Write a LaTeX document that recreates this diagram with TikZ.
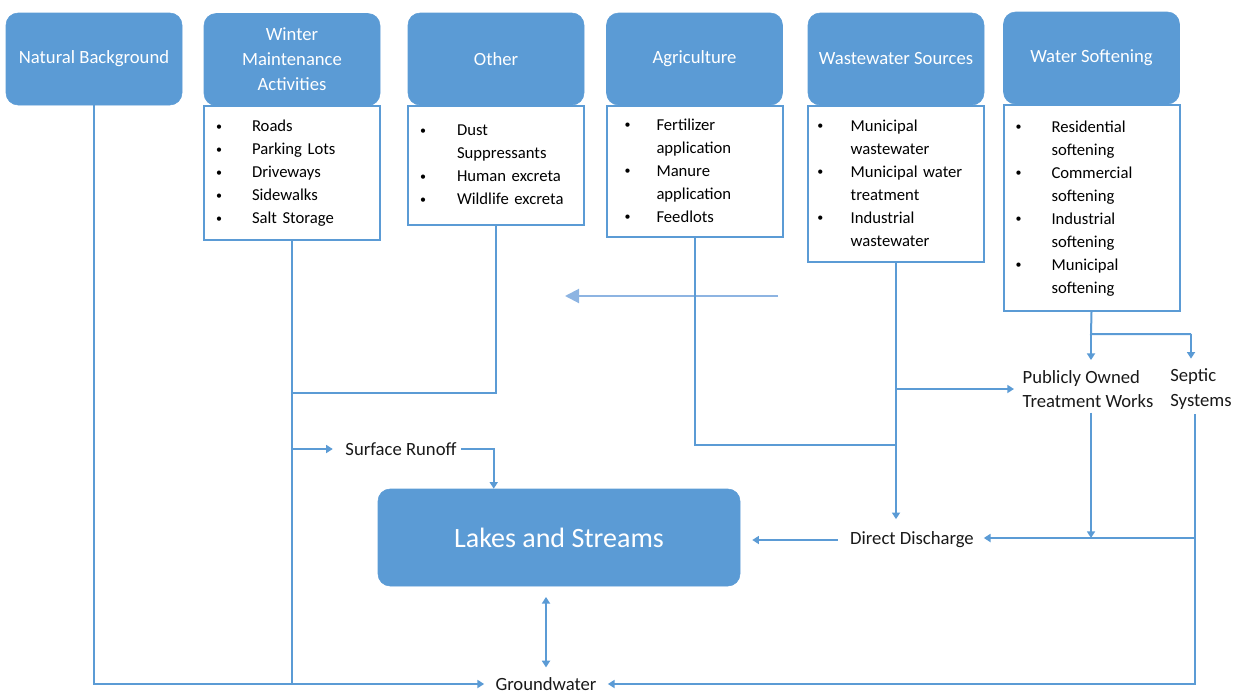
\documentclass[tikz,border=0pt]{standalone}
\usepackage{fontspec}
\setmainfont{Carlito}
\usetikzlibrary{arrows.meta,positioning}
\definecolor{boxblue}{HTML}{5B9BD5}
\definecolor{paleblue}{HTML}{8DB4E2}
\newcommand\bul{\raisebox{1.2pt}{\fontsize{9}{9}\selectfont\textbullet}}
\tikzset{
  head/.style={draw=boxblue, fill=boxblue, rounded corners=9pt, text=white,
    font=\fontsize{14}{18.75}\selectfont, minimum width=132pt, minimum height=69pt, align=center},
  listbox/.style={draw=boxblue, line width=1.5pt, fill=white, minimum width=132pt,
    inner xsep=9pt, text width=114pt, align=left, anchor=north,
    font=\fontsize{12.5}{17.25}\selectfont},
  lbl/.style={font=\fontsize{14}{18.5}\selectfont, text=black!90},
  flow/.style={draw=boxblue, line width=1.5pt},
  arr/.style={flow, -{Triangle[width=6pt,length=5pt]}},
  dblarr/.style={flow, {Triangle[width=6pt,length=5pt]}-{Triangle[width=6pt,length=5pt]}}
}
\begin{document}
\begin{tikzpicture}[x=0.75pt, y=-0.75pt]
  \useasboundingbox (0,0) rectangle (1233,696);

  % source boxes
  \node [head] (nat) at (94,59) {Natural Background};

  \node [listbox, minimum height=100.5pt] (winterlist) at (292,105) {%
    \begin{tabular}{@{}p{27pt}@{}l@{}}
      \bul & Roads\\
      \bul & Parking Lots\\
      \bul & Driveways\\
      \bul & Sidewalks\\
      \bul & Salt Storage
    \end{tabular}};
  \node [head] (winter) at (292,59.5) {\raisebox{-5.5pt}{\parbox{120pt}{\centering Winter\\Maintenance\\Activities}}};

  \node [listbox, minimum height=89.25pt] (otherlist) at (496,105) {%
    \begin{tabular}{@{}p{27.75pt}@{}l@{}}
      \bul & Dust\\
           & Suppressants\\
      \bul & Human excreta\\
      \bul & Wildlife excreta
    \end{tabular}};
  \node [head] (other) at (496,59) {Other};

  \node [listbox, minimum height=98.25pt, inner xsep=13.5pt, text width=105pt] (agrilist) at (694.5,105) {%
    \begin{tabular}{@{}p{24pt}@{}l@{}}
      \bul & Fertilizer\\
           & application\\
      \bul & Manure\\
           & application\\
      \bul & Feedlots
    \end{tabular}};
  \node [head] (agri) at (694.5,59) {Agriculture};

  \node [listbox, minimum height=117pt, inner xsep=7pt, text width=118pt] (wastelist) at (896,105) {%
    \begin{tabular}{@{}p{25pt}@{}l@{}}
      \bul & Municipal\\
           & wastewater\\
      \bul & Municipal water\\
           & treatment\\
      \bul & Industrial\\
           & wastewater
    \end{tabular}};
  \node [head] (waste) at (896,59) {Wastewater Sources};

  \node [listbox, minimum height=154.5pt] (softlist) at (1091.5,104) {%
    \begin{tabular}{@{}p{27pt}@{}l@{}}
      \bul & Residential\\
           & softening\\
      \bul & Commercial\\
           & softening\\
      \bul & Industrial\\
           & softening\\
      \bul & Municipal\\
           & softening
    \end{tabular}};
  \node [head] (soft) at (1091.5,58) {Water Softening};

  % receiving waters and pathways
  \node [head, minimum width=271.5pt, minimum height=72.75pt,
    font=\fontsize{21}{25}\selectfont] (lakes) at (559,537.5) {Lakes and Streams};
  \node [lbl] (runoff) at (401,449) {Surface Runoff};
  \node [lbl] (discharge) at (912,540) {Direct Discharge};
  \node [lbl, align=left] (potw) at (1088,389) {Publicly Owned\\Treatment Works};
  \node [lbl, align=left] (septic) at (1201,389) {Septic\\Systems};
  \node [lbl] (ground) at (546,684) {Groundwater};

  \coordinate (otherjoin) at (292,393);
  \coordinate (agrijoin) at (897,445);
  \coordinate (split) at (1091,334);
  \coordinate (septictop) at (1191,334);
  \coordinate (sepjoin) at (1195,538);
  \coordinate (loosestart) at (778,296);
  \coordinate (looseend) at (565,296);

  % left side
  \draw [arr, shorten >=5pt] (nat.south) |- (ground.west);
  \draw [flow] (winterlist.south) -- (winterlist.south |- ground);
  \draw [flow] (otherlist.south) |- (otherjoin);
  \draw [arr, shorten >=6pt] (winterlist.south |- runoff) -- (runoff.west);
  \draw [arr] (runoff.east) -| ([xshift=87pt]lakes.north west);
  \draw [dblarr, shorten <=8pt, shorten >=4pt] (ground |- lakes.south) -- (ground.north);
  \draw [flow, draw=paleblue, -{Triangle[width=10.5pt,length=10.5pt]}] (loosestart) -- (looseend);

  % middle
  \draw [flow] (agrilist.south) |- (agrijoin);
  \draw [arr, shorten >=6pt] (wastelist.south) -- (wastelist.south |- discharge.north);
  \draw [arr, shorten >=3pt] (wastelist.south |- potw) -- (potw.west);
  \draw [arr, shorten <=6pt, shorten >=9pt] (discharge.west) -- (lakes.east |- discharge.west);

  % right side
  \draw [flow] (softlist.south) -- (split) -- (septictop);
  \draw [arr, shorten >=4pt] (split) -- (split |- potw.north);
  \draw [arr, shorten >=4pt] (septictop) -- (septictop |- septic.north);
  \draw [arr] (potw.south -| split) -- (split |- sepjoin);
  \draw [arr, shorten >=5pt] (septic.south -| sepjoin) |- (ground.east);
  \draw [arr, shorten >=4pt] (sepjoin) -- (sepjoin -| discharge.east);
\end{tikzpicture}
\end{document}
